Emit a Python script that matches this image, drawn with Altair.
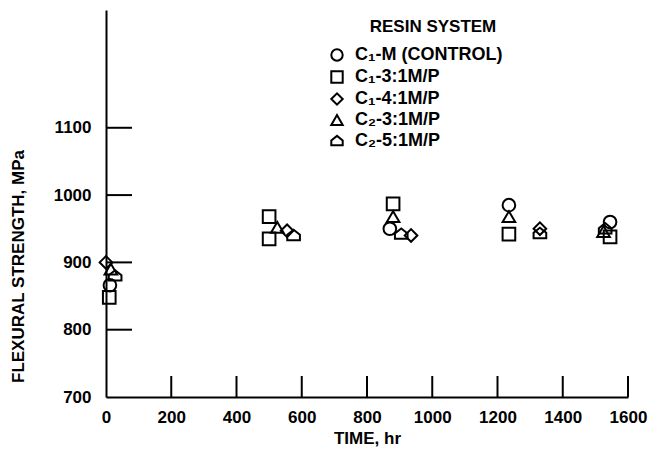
import altair as alt
import pandas as pd

# ---- data ----
series_names = ["C\u2081-M (CONTROL)", "C\u2081-3:1M/P", "C\u2081-4:1M/P", "C\u2082-3:1M/P", "C\u2082-5:1M/P"]
legend_title = "RESIN SYSTEM"

c1m_time = [12, 870, 1235, 1545]
c1m_val = [866, 950, 985, 960]

c13_time = [10, 500, 500, 880, 1235, 1545]
c13_val = [848, 968, 935, 987, 942, 938]

c14_time = [0, 555, 935, 1330]
c14_val = [900, 947, 940, 950]

c23_time = [15, 525, 880, 1235, 1525]
c23_val = [890, 952, 968, 968, 946]

c25_time = [28, 575, 905, 1330, 1530]
c25_val = [880, 940, 942, 943, 950]

x_label_vals = [0, 200, 400, 600, 800, 1000, 1200, 1400, 1600]
x_tick_vals = [200, 400, 600, 800, 1000, 1200, 1400, 1600]
y_label_vals = [700, 800, 900, 1000, 1100]
y_tick_vals = [800, 900, 1000, 1100]

rows = []
for name, ts, vs in zip(series_names,
                        [c1m_time, c13_time, c14_time, c23_time, c25_time],
                        [c1m_val, c13_val, c14_val, c23_val, c25_val]):
    for t, v in zip(ts, vs):
        rows.append({"time": t, "strength": v, "system": name})
df = pd.DataFrame(rows)

# ---- style ----
FONT = "Liberation Sans, Arial, sans-serif"
house = "M-1,0.75 L1,0.75 L1,-0.1 L0,-0.9 L-1,-0.1 Z"
shape_range = ["circle", "square", "diamond", "triangle-up", house]

W, H = 522, 387
x_scale = alt.Scale(domain=[0, 1600], nice=False, zero=False)
y_scale = alt.Scale(domain=[700, 1275], nice=False, zero=False)

x_axis = alt.Axis(
    values=x_label_vals, format="d", title="TIME, hr", grid=False, ticks=False,
    labelPadding=12, labelFont=FONT, labelFontSize=17, labelFontWeight="bold",
    labelColor="black", labelFlush=False,
    titleFont=FONT, titleFontSize=17, titleFontWeight="bold", titleColor="black",
    titleY=41, titleBaseline="middle",
    domainColor="black", domainWidth=2)
y_axis = alt.Axis(
    values=y_label_vals, format="d", title="FLEXURAL STRENGTH, MPa", grid=False, ticks=False,
    labelPadding=15, labelFont=FONT, labelFontSize=17, labelFontWeight="bold",
    labelColor="black",
    titleFont=FONT, titleFontSize=17, titleFontWeight="bold", titleColor="black",
    titleX=-88, titleY=256, titleAngle=-90, titleAlign="center", titleBaseline="middle",
    domainColor="black", domainWidth=2)

points = alt.Chart(df).mark_point(
    filled=False, size=160, strokeWidth=2, color="black", opacity=1
).encode(
    x=alt.X("time:Q", scale=x_scale, axis=x_axis),
    y=alt.Y("strength:Q", scale=y_scale, axis=y_axis),
    shape=alt.Shape("system:N", scale=alt.Scale(domain=series_names, range=shape_range),
                    legend=alt.Legend(
                        title=None, orient="none", legendX=222, legendY=36,
                        labelFont=FONT, labelFontSize=18, labelFontWeight="bold",
                        labelColor="black", labelOffset=9,
                        symbolSize=130, symbolStrokeWidth=2, symbolStrokeColor="black",
                        symbolFillColor="transparent", rowPadding=2)),
)

title_text = alt.Chart(pd.DataFrame({"label": [legend_title]})).mark_text(
    font=FONT, fontSize=17, fontWeight="bold", color="black",
    align="center", baseline="middle").encode(
    text="label:N", x=alt.value(327), y=alt.value(17))

xticks = alt.Chart(pd.DataFrame({"time": x_tick_vals})).mark_rule(
    color="black", strokeWidth=2).encode(
    x=alt.X("time:Q", scale=x_scale, axis=x_axis),
    y=alt.value(H), y2=alt.value(H - 21))

yticks = alt.Chart(pd.DataFrame({"strength": y_tick_vals})).mark_rule(
    color="black", strokeWidth=2).encode(
    y=alt.Y("strength:Q", scale=y_scale, axis=y_axis),
    x=alt.value(0), x2=alt.value(26))

chart = alt.layer(points, xticks, yticks, title_text).properties(
    width=W, height=H, autosize="none",
    padding={"left": 98, "top": 2, "right": 30, "bottom": 50},
    background="white",
).configure_view(stroke=None)

chart.save("out.html", embed_options={"renderer": "svg", "actions": False})
